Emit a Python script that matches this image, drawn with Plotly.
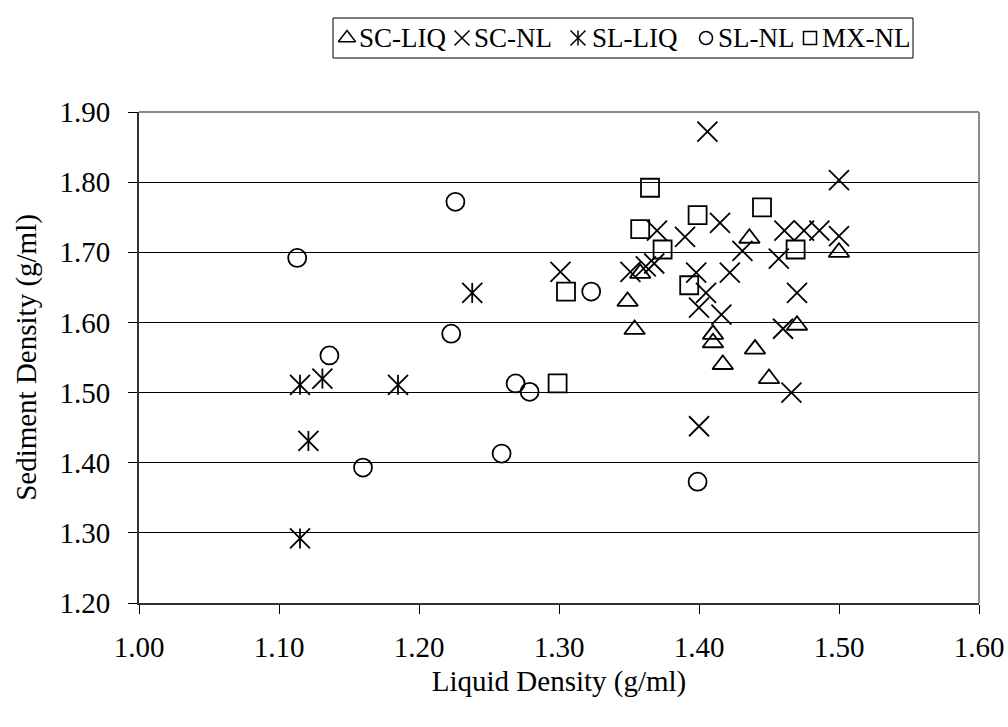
import plotly.graph_objects as go

# ---- data: liquid density (x) vs sediment density (y), g/ml ----
sc_liq_x = [1.349, 1.354, 1.358, 1.410, 1.410, 1.417, 1.436, 1.440, 1.450, 1.470, 1.500]
sc_liq_y = [1.63, 1.59, 1.67, 1.583, 1.571, 1.54, 1.72, 1.562, 1.52, 1.596, 1.70]

sc_nl_x = [1.301, 1.351, 1.362, 1.368, 1.370, 1.390, 1.398, 1.400, 1.400, 1.405, 1.406, 1.415,
           1.416, 1.422, 1.431, 1.457, 1.460, 1.461, 1.466, 1.470, 1.475, 1.486, 1.500, 1.500]
sc_nl_y = [1.672, 1.672, 1.680, 1.684, 1.731, 1.722, 1.671, 1.621, 1.452, 1.642, 1.872, 1.742,
           1.611, 1.671, 1.702, 1.691, 1.591, 1.731, 1.500, 1.642, 1.731, 1.731, 1.723, 1.803]

sl_liq_x = [1.115, 1.131, 1.185, 1.121, 1.115, 1.238]
sl_liq_y = [1.511, 1.520, 1.511, 1.431, 1.292, 1.642]

sl_nl_x = [1.113, 1.136, 1.160, 1.223, 1.226, 1.259, 1.269, 1.279, 1.323, 1.399]
sl_nl_y = [1.692, 1.553, 1.393, 1.584, 1.772, 1.413, 1.513, 1.501, 1.644, 1.373]

mx_nl_x = [1.299, 1.305, 1.358, 1.365, 1.374, 1.393, 1.399, 1.445, 1.469]
mx_nl_y = [1.513, 1.644, 1.733, 1.792, 1.704, 1.653, 1.753, 1.764, 1.704]

x_ticks = [1.00, 1.10, 1.20, 1.30, 1.40, 1.50, 1.60]
y_ticks = [1.20, 1.30, 1.40, 1.50, 1.60, 1.70, 1.80, 1.90]

series_names = ["SC-LIQ", "SC-NL", "SL-LIQ", "SL-NL", "MX-NL"]

# ---- page geometry (pixels) ----
W, H = 1008, 727
PL, PR, PT, PB = 139, 979, 112, 603   # plot-area edges
FONT = "Liberation Serif, Times New Roman, serif"
FS = 29       # axis text
FS_LEG = 27   # legend text

fig = go.Figure()


def open_marker(symbol, size, width=1.8):
    # open symbols take their stroke colour from marker.color
    return dict(symbol=symbol, size=size, color="black",
                line=dict(color="black", width=width))


fig.add_trace(go.Scatter(x=sc_liq_x, y=sc_liq_y, mode="markers", name=series_names[0],
                         marker=open_marker("triangle-up-open", 18)))
fig.add_trace(go.Scatter(x=sc_nl_x, y=sc_nl_y, mode="markers", name=series_names[1],
                         marker=open_marker("x-thin-open", 20)))
# six-armed asterisk = diagonal cross + vertical stroke
fig.add_trace(go.Scatter(x=sl_liq_x, y=sl_liq_y, mode="markers", name=series_names[2],
                         marker=open_marker("x-thin-open", 20)))
fig.add_trace(go.Scatter(x=sl_liq_x, y=sl_liq_y, mode="markers", name=series_names[2],
                         marker=open_marker("line-ns-open", 14.3)))
fig.add_trace(go.Scatter(x=sl_nl_x, y=sl_nl_y, mode="markers", name=series_names[3],
                         marker=open_marker("circle-open", 18)))
fig.add_trace(go.Scatter(x=mx_nl_x, y=mx_nl_y, mode="markers", name=series_names[4],
                         marker=open_marker("square-open", 18)))

# ---- legend drawn on a pixel-space overlay axis ----
legend_sym_x = [347, 462, 578, 706, 810]
legend_txt_x = [357, 472, 590, 716, 820]
legend_y = 38
legend_syms = [("triangle-up-open", 15), ("x-thin-open", 15), ("x-thin-open", 15),
               ("circle-open", 13), ("square-open", 13)]
for (sym, sz), lx in zip(legend_syms, legend_sym_x):
    fig.add_trace(go.Scatter(x=[lx], y=[legend_y], mode="markers", xaxis="x2", yaxis="y2",
                             marker=open_marker(sym, sz, 1.5), hoverinfo="skip"))
fig.add_trace(go.Scatter(x=[legend_sym_x[2]], y=[legend_y], mode="markers", xaxis="x2", yaxis="y2",
                         marker=open_marker("line-ns-open", 10.7, 1.5), hoverinfo="skip"))

annotations = []
for name, tx in zip(series_names, legend_txt_x):
    annotations.append(dict(text=name, x=tx / W, y=1 - legend_y / H, xref="paper", yref="paper",
                            xanchor="left", yanchor="middle", showarrow=False,
                            font=dict(family=FONT, size=FS_LEG, color="black")))

shapes = [
    # legend frame
    dict(type="rect", xref="paper", yref="paper", x0=333 / W, x1=913 / W,
         y0=1 - 58 / H, y1=1 - 18 / H, line=dict(color="black", width=1)),
    # grey plot-area frame (top and right)
    dict(type="line", xref="x domain", yref="y domain", x0=0, x1=1, y0=1, y1=1,
         line=dict(color="#8a8a8a", width=2), layer="above"),
    dict(type="line", xref="x domain", yref="y domain", x0=1, x1=1, y0=0, y1=1,
         line=dict(color="#8a8a8a", width=2), layer="above"),
]

fig.update_layout(
    width=W, height=H,
    margin=dict(l=0, r=0, t=0, b=0),
    paper_bgcolor="white",
    plot_bgcolor="rgba(0,0,0,0)",
    showlegend=False,
    font=dict(family=FONT, size=FS, color="black"),
    annotations=annotations,
    shapes=shapes,
    xaxis=dict(
        domain=[PL / W, PR / W], range=[1.0, 1.6], tickvals=x_ticks, tickformat=".2f",
        ticks="outside", ticklen=9, tickwidth=1, tickcolor="black",
        showline=True, linecolor="#303030", linewidth=2,
        showgrid=False, zeroline=False, automargin=False,
        ticklabelstandoff=8,
        tickfont=dict(family=FONT, size=FS, color="black"),
        title=dict(text="Liquid Density (g/ml)", standoff=9,
                   font=dict(family=FONT, size=FS, color="black")),
    ),
    yaxis=dict(
        domain=[1 - PB / H, 1 - PT / H], range=[1.2, 1.9], tickvals=y_ticks, tickformat=".2f",
        ticks="outside", ticklen=9, tickwidth=1, tickcolor="black",
        showline=True, linecolor="#303030", linewidth=2,
        showgrid=True, gridcolor="black", gridwidth=1, zeroline=False, automargin=False,
        ticklabelstandoff=12,
        tickfont=dict(family=FONT, size=FS, color="black"),
        title=dict(text="Sediment Density (g/ml)", standoff=14,
                   font=dict(family=FONT, size=FS, color="black")),
    ),
    xaxis2=dict(domain=[0, 1], range=[0, W], visible=False, anchor="y2", fixedrange=True),
    yaxis2=dict(domain=[0, 1], range=[H, 0], visible=False, anchor="x2", fixedrange=True),
)

fig.write_html("out.html")
